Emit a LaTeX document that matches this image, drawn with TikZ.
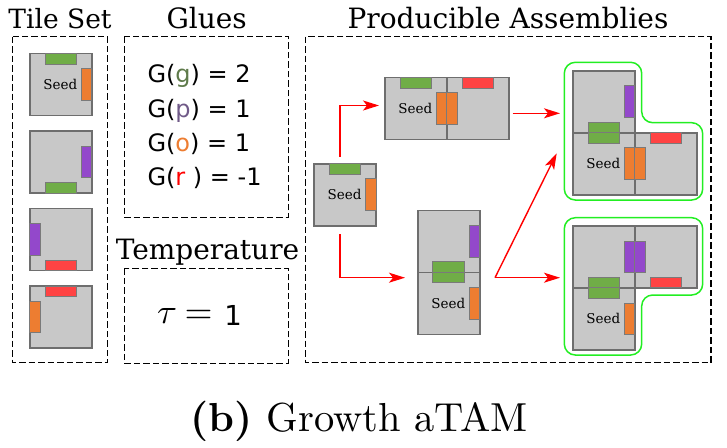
\documentclass[tikz,border=0pt]{standalone}
\usepackage{fontspec}
\newfontfamily\titlefont{DejaVu Serif}
\newfontfamily\gluefont{DejaVu Sans}
\newfontfamily\capfont{lmroman10-regular.otf}[BoldFont=lmroman10-bold.otf]
\usetikzlibrary{arrows.meta,calc}
\definecolor{tilefill}{HTML}{C8C8C8}
\definecolor{tileline}{HTML}{6E6E6E}
\definecolor{barline}{HTML}{7A7A7A}
\definecolor{gG}{HTML}{70AD47}
\definecolor{gO}{HTML}{ED7D31}
\definecolor{gP}{HTML}{9348CB}
\definecolor{gR}{HTML}{FF4343}
\definecolor{hull}{HTML}{22EE22}
\definecolor{arr}{HTML}{FF0000}
\definecolor{txtg}{HTML}{5E7A4A}
\definecolor{txtp}{HTML}{705A88}
\definecolor{txto}{HTML}{ED7D31}
\definecolor{txtr}{HTML}{FF0000}
\tikzset{
  tile/.style={draw=tileline, fill=tilefill, line width=1.6pt, minimum size=62pt, inner sep=0pt, outer sep=0pt},
  hbar/.style={draw=barline, line width=1pt, minimum width=31.5pt, minimum height=10.5pt, inner sep=0pt, outer sep=0pt},
  vbar/.style={draw=barline, line width=1pt, minimum width=10.5pt, minimum height=31.5pt, inner sep=0pt, outer sep=0pt},
  dbox/.style={draw=black, line width=1.2pt, dash pattern=on 6.5pt off 3pt},
  arrowline/.style={draw=arr, line width=1.4pt, -{Stealth[length=16pt,width=10pt,inset=4pt]}},
  hullline/.style={draw=hull, line width=1.5pt, rounded corners=11pt},
  title/.style={font=\titlefont\fontsize{28}{28}\selectfont, anchor=base, inner sep=0pt},
  seedlbl/.style={font=\titlefont\fontsize{13.5}{13.5}\selectfont, inner sep=0pt},
  gluetxt/.style={font=\gluefont\fontsize{24}{24}\selectfont, anchor=base west, inner sep=0pt},
}
\newcommand{\barN}[2]{\node[hbar,fill=#2,anchor=north] (#1-n) at (#1.north) {};}
\newcommand{\barS}[2]{\node[hbar,fill=#2,anchor=south] (#1-s) at (#1.south) {};}
\newcommand{\barE}[2]{\node[vbar,fill=#2,anchor=east] (#1-e) at (#1.east) {};}
\newcommand{\barW}[2]{\node[vbar,fill=#2,anchor=west] (#1-w) at (#1.west) {};}
\newcommand{\seedat}[1]{\node[seedlbl] (#1-lbl) at ($(#1.center)+(-0.5,0)$) {Seed};}
\begin{document}
\begin{tikzpicture}[x=1pt,y=-1pt]
\useasboundingbox (0,0) rectangle (727,447);
% titles
\node[title, font=\titlefont\fontsize{26.5}{26.5}\selectfont] (tTile) at (60,28) {Tile Set};
\node[title] (tGlue) at (206.7,28) {Glues};
\node[title] (tTemp) at (207.5,259) {Temperature};
\node[title] (tProd) at (508,28) {Producible Assemblies};
% boxes
\draw[dbox] (12.7,36.7) rectangle (107.7,362.7);
\draw[dbox] (124.3,36.7) rectangle (288.3,217.3);
\draw[dbox] (124.3,268.3) rectangle (288.3,363.3);
\draw[dbox] (305.7,36.7) rectangle (711,362.7);
% glues
\node[gluetxt] (g1) at (147.3,82.3) {G({\color{txtg}g}) = 2};
\node[gluetxt] (g2) at (147.3,117.3) {G({\color{txtp}p}) = 1};
\node[gluetxt] (g3) at (147.3,151.7) {G({\color{txto}o}) = 1};
\node[gluetxt] (g4) at (147.3,185.7) {G({\color{txtr}r} ) = -1};
% temperature
\node[anchor=base, inner sep=0pt] (tau) at (167,323.3) {\resizebox{20pt}{15pt}{$\tau$}};
\node[anchor=base, inner sep=0pt] (eq) at (198.7,323) {\resizebox{28pt}{!}{$=$}};
\node[anchor=base, inner sep=0pt, font=\gluefont\fontsize{27.5}{27.5}\selectfont] (one) at (233,325) {1};
% tile set
\node[tile] (ts1) at (60.8,84.5) {};
\node[tile] (ts2) at (60.8,162.2) {};
\node[tile] (ts3) at (60.8,239.5) {};
\node[tile] (ts4) at (60.8,317) {};
\barN{ts1}{gG}\barE{ts1}{gO}\seedat{ts1}
\barE{ts2}{gP}\barS{ts2}{gG}
\barW{ts3}{gP}\barS{ts3}{gR}
\barN{ts4}{gR}\barW{ts4}{gO}
% single seed
\node[tile] (s0) at (345,194.7) {};
\barN{s0}{gG}\barE{s0}{gO}\seedat{s0}
% top assembly
\node[tile] (a1l) at (415.8,108.5) {};
\node[tile] (a1r) at (477.8,108.5) {};
\barN{a1l}{gG}\barE{a1l}{gO}\seedat{a1l}
\barN{a1r}{gR}\barW{a1r}{gO}
% bottom assembly
\node[tile] (b1t) at (448.7,241.3) {};
\node[tile] (b1b) at (448.7,303.3) {};
\barE{b1t}{gP}\barS{b1t}{gG}
\barN{b1b}{gG}\barE{b1b}{gO}\seedat{b1b}
% upper right
\node[tile] (c1t) at (603.8,101.7) {};
\node[tile] (c1l) at (603.8,163.7) {};
\node[tile] (c1r) at (665.8,163.7) {};
\barE{c1t}{gP}\barS{c1t}{gG}
\barN{c1l}{gG}\barE{c1l}{gO}\seedat{c1l}
\barN{c1r}{gR}\barW{c1r}{gO}
% lower right
\node[tile] (d1l) at (603.8,256.8) {};
\node[tile] (d1r) at (665.8,256.8) {};
\node[tile] (d1b) at (603.8,318.8) {};
\barE{d1l}{gP}\barS{d1l}{gG}
\barW{d1r}{gP}\barS{d1r}{gR}
\barN{d1b}{gG}\barE{d1b}{gO}\seedat{d1b}
% hulls
\draw[hullline] (564.3,62.3) -- (641.7,62.3) -- (641.7,122.7) -- (702.7,122.7) -- (702.7,200) -- (564.3,200) -- cycle;
\draw[hullline] (564.3,217.7) -- (702.7,217.7) -- (702.7,295) -- (641.7,295) -- (641.7,355) -- (564.3,355) -- cycle;
% arrows
\coordinate (p1s) at (340,156.7);
\coordinate (p1e) at (379,105.5);
\coordinate (p2s) at (340,234.3);
\coordinate (p2e) at (405,277.7);
\coordinate (p3s) at (512.7,113.3);
\coordinate (p3e) at (560,113.3);
\coordinate (p4s) at (495,277.7);
\coordinate (p4e) at (560,277.7);
\coordinate (p5e) at (556.7,153.3);
\draw[arrowline] (p1s) |- (p1e);
\draw[arrowline] (p2s) |- (p2e);
\draw[arrowline] (p3s) -- (p3e);
\draw[arrowline] (p4s) -- (p4e);
\draw[arrowline] (p4s) -- (p5e);
% caption
\node[anchor=base, inner sep=0pt, font=\capfont\fontsize{40.5}{40.5}\selectfont] (cap) at (359.3,431) {\textbf{(b)} Growth aTAM};
\end{tikzpicture}
\end{document}
